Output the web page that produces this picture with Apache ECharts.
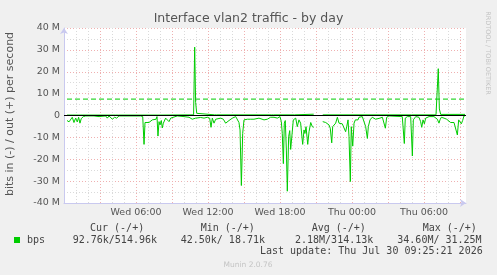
<!DOCTYPE html>
<html><head><meta charset="utf-8">
<script src="https://cdn.jsdelivr.net/npm/echarts@6/dist/echarts.min.js"></script>
<style>html,body{margin:0;padding:0;background:#f0f0f0;}#c{width:497px;height:275px;}</style>
</head><body><div id="c"></div>
<script>
// hours since Wed 00:00 ; values in Mbit/s
const inHours = [0.25,0.42,0.56,0.69,0.83,0.97,1.11,1.22,1.33,1.44,1.61,1.81,2.5,2.64,2.92,3.06,3.47,3.61,3.75,4.03,4.11,4.22,4.39,4.58,6.39,6.56,6.67,6.75,6.89,7.08,7.22,7.36,7.5,7.67,7.75,7.83,7.92,8.0,8.11,8.19,8.28,8.39,8.47,8.61,8.75,8.89,9.03,9.44,10.0,10.42,10.56,10.69,10.83,10.97,11.11,11.39,11.67,11.94,12.14,12.25,12.36,12.5,12.64,12.78,13.06,13.28,13.47,13.61,13.75,13.89,14.03,14.31,14.44,14.58,14.67,14.78,14.89,15.0,15.14,15.28,15.42,15.56,15.69,15.83,15.97,16.25,16.67,16.94,17.22,17.5,17.78,18.0,18.11,18.19,18.28,18.36,18.44,18.53,18.61,18.72,18.81,18.89,18.97,19.11,19.31,19.44,19.58,19.72,19.81,19.89,20.0,20.08,20.17,20.31,20.42,20.56,20.69,20.81,21.0,21.56,21.67,21.81,21.94,22.08,22.19,22.31,22.39,22.5,22.64,22.78,22.92,23.06,23.19,23.33,23.47,23.56,23.67,23.75,23.86,23.94,24.06,24.17,24.28,24.39,24.5,24.58,24.72,24.86,25.0,25.14,25.28,25.36,25.5,25.69,25.97,26.11,26.33,26.53,26.67,26.78,26.89,27.08,28.19,28.28,28.36,28.44,28.61,28.89,29.03,29.11,29.31,29.58,29.72,29.81,29.92,30.03,30.14,30.42,30.83,30.97,31.11,31.25,31.33,31.44,31.67,31.89,32.0,32.22,32.36,32.5,32.64,32.78,32.89,33.0,33.11,33.22,33.33,33.42];
const inMbps = [2.3,2.9,2.0,0.8,3.2,1.2,2.9,0.8,3.5,1.4,0.5,0.2,0.2,0.5,0.5,0.2,0.2,1.2,0.2,1.7,2.5,0.8,1.2,0.2,0.2,0.5,13.2,3.2,3.5,3.2,2.9,2.0,1.7,1.7,0.5,9.4,2.8,4.3,2.3,5.7,3.5,2.9,1.2,2.0,2.8,1.2,0.5,0.2,0.5,0.8,1.2,1.7,2.0,1.2,0.8,0.9,1.2,0.8,1.2,5.4,1.2,3.5,1.7,0.8,1.2,1.7,3.5,4.3,2.3,2.8,1.2,0.5,1.2,3.2,6.6,32.0,8.2,2.0,1.2,1.7,0.8,1.7,1.2,1.7,0.8,1.2,2.0,1.7,0.8,0.8,1.2,0.5,2.8,8.2,22.0,3.5,2.3,15.8,34.6,9.7,6.9,15.5,15.1,2.0,1.2,5.1,2.0,3.5,4.3,13.2,6.6,8.2,5.1,13.2,7.4,3.2,5.1,5.4,null,2.8,3.5,3.2,3.8,4.3,5.8,12.5,5.1,4.3,3.5,0.8,3.5,3.8,3.8,4.3,7.4,5.1,2.0,9.7,30.2,5.1,14.0,3.5,2.0,2.8,2.0,0.8,1.7,0.5,1.2,5.1,10.5,5.1,2.0,0.8,1.7,0.8,1.2,0.8,1.7,5.8,0.8,0.2,0.5,1.2,12.8,1.2,0.5,0.5,18.5,2.0,0.5,0.8,2.8,5.4,2.0,3.8,1.2,0.5,0.5,0.8,1.7,3.5,2.0,0.8,1.2,1.7,1.2,3.2,2.8,3.2,2.3,8.9,2.0,1.2,3.8,2.3,0.2,0.09];
const outHours = [0.25,4.3,4.44,4.55,7.83,7.92,8.0,10.8,10.89,10.97,11.06,11.2,12.55,12.64,12.72,16.0,16.08,16.17,17.28,17.36,17.45,19.2,19.3,20.81,21.0,21.56,28.95,29.03,29.11,31.0,31.11,31.19,31.28,31.39,33.42];
const outMbps = [0.2,0.2,0.5,0.2,0.2,0.5,0.2,0.3,31.25,6.0,1.0,0.4,0.3,0.5,0.3,0.3,1.1,0.3,0.3,0.6,0.3,0.3,0.6,0.6,null,0.3,0.3,0.5,0.3,0.3,1.0,21.4,3.0,0.5,0.51];
const warnLevelMbps = 7.5;
const xRange = [0, 33.5];
const xTickLabels = {6:'Wed 06:00',12:'Wed 12:00',18:'Wed 18:00',24:'Thu 00:00',30:'Thu 06:00'};
const legendHeaders = ['Cur (-/+)','Min (-/+)','Avg (-/+)','Max (-/+)'];
const legendValues = ['92.76k/514.96k','42.50k/ 18.71k','2.18M/314.13k','34.60M/ 31.25M'];
const lastUpdate = 'Last update: Thu Jul 30 09:25:21 2026';

const GREEN = '#00cc00';
const inData = inHours.map((t,i)=> inMbps[i]===null ? [t,'-'] : [t, -inMbps[i]*1e6]);
const outData = outHours.map((t,i)=> outMbps[i]===null ? [t,'-'] : [t, outMbps[i]*1e6]);
const warnData = [[0.25, warnLevelMbps*1e6],[33.42, warnLevelMbps*1e6]];
const zeroData = [[xRange[0],0],[xRange[1],0]];

const chart = echarts.init(document.getElementById('c'), null, {renderer:'canvas'});
const mono = 'DejaVu Sans Mono';
const hdrX = [90,200.7,311.7,422.7];
const valX = [72.7,180.7,295,397.3];
const graphics = [
  {type:'text', left:'center', style:{text:'Interface vlan2 traffic - by day', x:0, y:0, font:'12.5px "DejaVu Sans"', fill:'#555'}, top:12},
  {type:'text', x:10, y:114, rotation:Math.PI/2, style:{text:'bits in (-) / out (+) per second', font:'11px "DejaVu Sans"', fill:'#555', align:'center', verticalAlign:'middle'}},
  {type:'text', x:488, y:53, rotation:-Math.PI/2, style:{text:'RRDTOOL / TOBI OETIKER', font:'6.5px "DejaVu Sans"', fill:'#c4c4c4', align:'center', verticalAlign:'middle'}},
  {type:'rect', shape:{x:14,y:237,width:6,height:6}, style:{fill:GREEN}},
  {type:'text', x:27, y:240.5, style:{text:'bps', font:'10px "'+mono+'"', fill:'#444', verticalAlign:'middle'}},
  {type:'text', x:482.7, y:251.5, style:{text:lastUpdate, font:'10px "'+mono+'"', fill:'#444', align:'right', verticalAlign:'middle'}},
  {type:'text', x:248, y:265.5, style:{text:'Munin 2.0.76', font:'7.5px "DejaVu Sans"', fill:'#c4c4c4', align:'center', verticalAlign:'middle'}}
];
legendHeaders.forEach((h,i)=>graphics.push({type:'text', x:hdrX[i], y:228, style:{text:h, font:'10px "'+mono+'"', fill:'#444', verticalAlign:'middle'}}));
legendValues.forEach((h,i)=>graphics.push({type:'text', x:valX[i], y:240.5, style:{text:h, font:'10px "'+mono+'"', fill:'#444', verticalAlign:'middle'}}));

const RED = '#efb0b0', GRAY = '#dadada', AXIS = '#c9c9ef';
chart.setOption({
  animation:false,
  backgroundColor:'#f0f0f0',
  grid:{left:64, top:28, width:402, height:175, show:true, backgroundColor:'#ffffff', borderWidth:0},
  xAxis:{type:'value', min:xRange[0], max:xRange[1], interval:1,
    axisLine:{onZero:false, lineStyle:{color:AXIS, width:1}, symbol:['none','arrow'], symbolSize:[6,6]},
    axisTick:{show:false},
    axisLabel:{margin:5, fontFamily:'DejaVu Sans', fontSize:9.5, color:'#555', showMinLabel:false, showMaxLabel:false,
      formatter:v=> xTickLabels[v] || ''},
    splitLine:{show:true, showMaxLine:false, lineStyle:{color:[RED,GRAY,GRAY], type:[1,2], width:1}}
  },
  yAxis:{type:'value', min:-40e6, max:40e6, interval:5e6,
    axisLine:{show:true, lineStyle:{color:AXIS, width:1}, symbol:['none','arrow'], symbolSize:[6,6]},
    axisTick:{show:false},
    axisLabel:{margin:4, fontFamily:'DejaVu Sans', fontSize:9.5, color:'#555',
      formatter:v=> (Math.round(v/1e6)%10!==0) ? '' : (v===0 ? '0' : Math.round(v/1e6)+' M')},
    splitLine:{show:true, lineStyle:{color:[RED,GRAY], type:[1,2], width:1}}
  },
  series:[
    {type:'line', data:warnData, symbol:'none', silent:true, lineStyle:{color:GREEN, width:1, type:[5,3]}, z:1},
    {type:'line', data:inData, symbol:'none', connectNulls:false, lineStyle:{color:GREEN, width:1}, z:2},
    {type:'line', data:outData, symbol:'none', connectNulls:false, lineStyle:{color:GREEN, width:1}, z:3},
    {type:'line', data:zeroData, symbol:'none', silent:true, lineStyle:{color:'#000000', width:1}, z:4}
  ],
  graphic:graphics
});
</script></body></html>
